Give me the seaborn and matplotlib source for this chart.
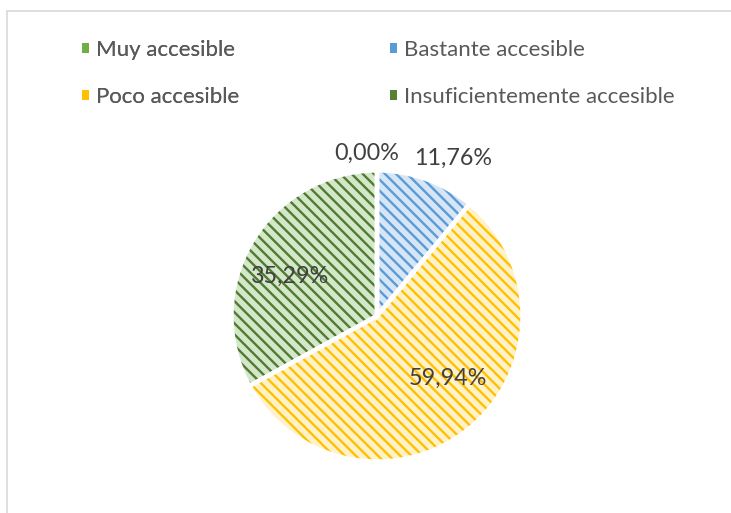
import matplotlib
matplotlib.use("Agg")
import matplotlib.pyplot as plt
from matplotlib.patches import Patch
import seaborn as sns

# ---- data ----
categories = ["Muy accesible", "Bastante accesible", "Poco accesible", "Insuficientemente accesible"]
values = [0.00, 11.76, 59.94, 35.29]
value_labels = ["0,00%", "11,76%", "59,94%", "35,29%"]

# ---- style ----
face_colors = ["#c9e0b8", "#d6e6f6", "#fff2c8", "#d5e7c9"]
hatch_colors = ["#70ad47", "#5b9bd5", "#ffc000", "#4f7b33"]
legend_colors = ["#70ad47", "#5b9bd5", "#ffc000", "#548235"]
label_pos = [(-0.07, 1.115), (0.52, 1.08), (0.485, -0.425), (-0.60, 0.27)]

sns.set_theme(style="white")
plt.rcParams["font.family"] = ["Lato", "DejaVu Sans"]
plt.rcParams["hatch.linewidth"] = 1.7

fig = plt.figure(figsize=(7.31, 5.13), dpi=100)
W, H = 731, 513
cx, cy, r = 377, 316, 147
ax = fig.add_axes([(cx - r) / W, (H - cy - r) / H, 2 * r / W, 2 * r / H])

wedges, _ = ax.pie(values, startangle=90, counterclock=False, radius=1.0,
                   colors=face_colors, wedgeprops=dict(linewidth=0))
for w, hc in zip(wedges, hatch_colors):
    w.set_hatch("\\\\\\")
    w.set_edgecolor(hc)
    w.set_linewidth(0)

# white separators
ax.pie(values, startangle=90, counterclock=False, radius=1.0,
       colors=["none"] * len(values),
       wedgeprops=dict(linewidth=3.2, edgecolor="white", fill=False))

ax.set_xlim(-1.01, 1.01)
ax.set_ylim(-1.01, 1.01)
ax.set_aspect("equal")
ax.axis("off")

for (x, y), t in zip(label_pos, value_labels):
    ax.text(x, y, t, ha="center", va="center", fontsize=16.8, color="#404040")

# legend (two columns, placed manually)
handles = [Patch(facecolor=c, edgecolor="none", label=l) for c, l in zip(legend_colors, categories)]
common = dict(loc="center left", frameon=False, fontsize=16.0, labelcolor="#595959",
              handlelength=0.33, handleheight=0.33, handletextpad=0.3,
              labelspacing=1.22, borderpad=0, borderaxespad=0)
leg1 = fig.legend(handles=[handles[0], handles[2]],
                  bbox_to_anchor=(82 / W, 1 - 73.5 / H), **common)
fig.add_artist(leg1)
leg2 = fig.legend(handles=[handles[1], handles[3]],
                  bbox_to_anchor=(390 / W, 1 - 73.5 / H), **common)

# border lines (top and left)
fig.add_artist(plt.Line2D([7 / W, 1], [1 - 11 / H, 1 - 11 / H], color="#d9d9d9", lw=1.2))
fig.add_artist(plt.Line2D([7 / W, 7 / W], [0, 1 - 11 / H], color="#d9d9d9", lw=1.2))

fig.savefig("out.png", dpi=100)
